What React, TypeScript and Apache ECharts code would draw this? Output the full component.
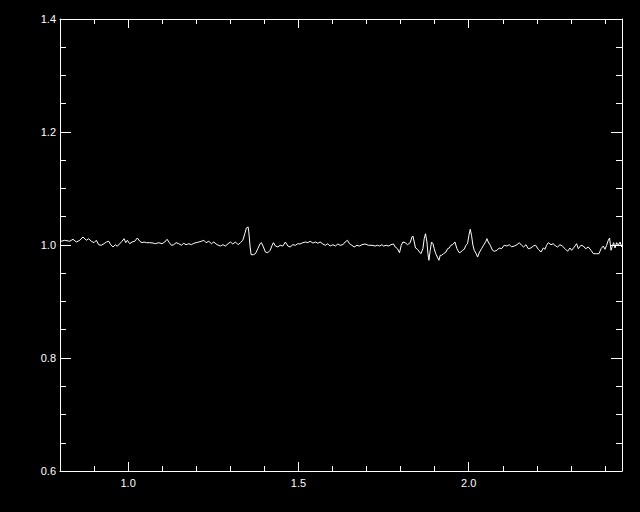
import React, { useEffect, useRef } from "react";
import * as echarts from "echarts";

// Wavelength (x) and normalised flux (y)
const wavelength = [
  0.8029, 0.8138, 0.8285, 0.8382, 0.8479, 0.8579, 0.8676, 0.8773, 0.8843, 0.892,
  0.8999, 0.9066, 0.9137, 0.9213, 0.9293, 0.936, 0.9431, 0.9489, 0.9557, 0.9625,
  0.9683, 0.9754, 0.9821, 0.988, 0.993, 0.9977, 1.0048, 1.0115, 1.0194, 1.0271,
  1.0341, 1.0409, 1.0468, 1.0535, 1.0635, 1.0732,
  1.08, 1.09, 1.0996, 1.1076, 1.1143, 1.1211, 1.127, 1.134, 1.1408, 1.1487,
  1.1563, 1.1634, 1.1701, 1.1781, 1.1857, 1.1928, 1.1995, 1.2075, 1.2151, 1.2222,
  1.2289, 1.2368, 1.2445, 1.2515, 1.2612, 1.2709, 1.278, 1.2856, 1.2935, 1.3003,
  1.3073, 1.315, 1.3229, 1.3297, 1.3367, 1.3426, 1.3473, 1.3523,
  1.3543, 1.3582, 1.3611, 1.3679, 1.3737, 1.3808, 1.3875, 1.3913, 1.3972, 1.4031,
  1.4102, 1.4169, 1.4228, 1.4266, 1.4325, 1.4395, 1.4463, 1.4542, 1.4618, 1.4689,
  1.4757, 1.4836, 1.4912, 1.4983, 1.505, 1.513, 1.5206, 1.5277, 1.5344, 1.5424,
  1.55, 1.557, 1.5638, 1.5717, 1.5794, 1.5864, 1.5932, 1.6011, 1.6087, 1.6158, 1.6225,
  1.6305, 1.6372, 1.644, 1.6499, 1.6569, 1.6637, 1.6716, 1.6793, 1.6863, 1.696,
  1.7057, 1.7157, 1.7254, 1.7321, 1.738, 1.7451, 1.7498, 1.7577, 1.7644, 1.7715,
  1.7791, 1.7841, 1.7909, 1.7968, 1.8018, 1.8068, 1.8135, 1.8203, 1.8282, 1.8332,
  1.8361, 1.84, 1.8438, 1.8496, 1.8555, 1.8596, 1.8655, 1.8693, 1.8731, 1.8773,
  1.8802, 1.8831, 1.8869, 1.8908, 1.8949, 1.8987,
  1.9031, 1.9125, 1.9163, 1.9201, 1.926, 1.9331, 1.9378, 1.9428, 1.9478, 1.9525,
  1.9595, 1.9654, 1.9721, 1.9771, 1.9818, 1.9868, 1.9918, 1.9965, 2.0006, 2.0044,
  2.0082, 2.0123, 2.0162, 2.022, 2.0259, 2.0318, 2.0376, 2.0435, 2.0506, 2.0535,
  2.0573, 2.0632, 2.0699, 2.0749, 2.0829, 2.0896, 2.0964, 2.1043, 2.1122, 2.119,
  2.1258, 2.1337, 2.1416, 2.1484, 2.1552, 2.161, 2.1681, 2.1748,
  2.1828, 2.1895, 2.1963, 2.2042, 2.2122, 2.2189, 2.2239, 2.2286, 2.2336, 2.2415,
  2.2483, 2.255, 2.2609, 2.268, 2.2747, 2.2827, 2.2903, 2.2974, 2.3021, 2.31,
  2.3167, 2.3217, 2.3296, 2.3364, 2.3431, 2.3511, 2.359, 2.3658, 2.3755, 2.3825,
  2.3884, 2.3951, 2.4001, 2.4048, 2.4098, 2.4136, 2.4177, 2.4216, 2.4254, 2.4295,
  2.4342, 2.4392, 2.4442, 2.4489, 2.453,
];

const flux = [
  1.0066, 1.0083, 1.0066, 1.0101, 1.0053, 1.0083, 1.0142, 1.0083, 1.0112, 1.0066,
  1.0041, 1.0083, 1.0005, 0.9995, 1.0023, 1.0053, 1.0066, 1.0005, 0.9965, 1.0005,
  0.9977, 1.0023, 1.0066, 1.0112, 1.0041, 1.0083, 1.0023, 1.0053, 1.0066, 1.0124,
  1.0066, 1.0041, 1.0053, 1.0041, 1.0041, 1.0035,
  1.0023, 1.0041, 1.0023, 1.0053, 1.0101, 1.0041, 0.9995, 1.0005, 1.0041, 1.0023,
  0.9995, 1.003, 1.0005, 1.0023, 1.0005, 1.003, 1.0041, 1.0053, 1.0066, 1.0083,
  1.0041, 1.0066, 1.0023, 1.0053, 1.0005, 0.9982, 1.0005, 0.9982, 1.0023, 1.0053,
  1.0018, 1.0053, 1.0005, 1.0041, 1.0083, 1.02, 1.0302, 1.0319,
  1.0231, 0.9965, 0.9828, 0.9828, 0.9846, 0.9934, 1.0023, 1.0041, 0.9965, 0.9876,
  0.9863, 0.9906, 0.9995, 1.0041, 0.9982, 0.9965, 0.9995, 0.9982, 1.0053, 0.9982,
  0.9965, 1.0005, 0.9995, 1.0023, 1.0018, 1.0041, 1.0053, 1.0041, 1.0066, 1.0035,
  1.0053, 1.003, 1.0053, 1.0018, 0.9995, 1.0023, 0.9982, 1.0005, 0.9982, 1.0018, 0.9995,
  1.0005, 1.0053, 1.0083, 1.0023, 0.9995, 0.9965, 0.9995, 0.9982, 1.0005, 1.0018,
  0.9995, 0.9995, 0.9982, 0.9995, 0.9982, 1.0005, 0.9982, 0.9995, 0.9982, 1.0005,
  1.0018, 0.9965, 0.9934, 0.9863, 0.9995, 1.0053, 1.0041, 1.0005, 1.0041, 1.0142,
  1.016, 1.0053, 0.9947, 0.9924, 0.9876, 0.9846, 0.9934, 1.0112, 1.02, 1.0053,
  0.9846, 0.9729, 0.9906, 1.0053, 1.0023, 0.9934,
  0.9846, 0.9729, 0.9817, 0.9817, 0.9846, 0.9876, 0.9934, 0.9947, 0.9995, 1.0005,
  1.0053, 0.9934, 0.9863, 0.9876, 0.9906, 0.9924, 0.9995, 1.0023, 1.0172, 1.0279,
  1.0172, 0.9995, 0.9906, 0.9846, 0.9787, 0.9876, 0.9934, 0.9995, 1.0066, 1.0112,
  1.0053, 0.9995, 0.9906, 0.9888, 0.9906, 0.9947, 0.9934, 0.9995, 0.9982, 1.0005,
  0.997, 0.9982, 1.0005, 1.0041, 0.9995, 0.9965, 1.0005, 0.9934,
  0.9947, 0.9982, 0.9995, 0.9924, 0.9876, 0.9947, 0.9924, 0.9995, 1.0041, 1.0005,
  1.0023, 0.9982, 0.9965, 1.0005, 0.9982, 0.9934, 0.9888, 0.9947, 0.9906, 0.9965,
  1.0023, 0.9934, 0.9995, 0.9982, 0.9934, 0.9965, 0.9906, 0.9846, 0.9846, 0.9846,
  0.9934, 0.9982, 0.9924, 0.9995, 1.0083, 1.0124, 0.9906, 0.9982, 1.0041, 0.9947,
  1.0041, 0.9995, 1.0053, 0.9965, 1.0041,
];

const X_MIN = 0.8;
const X_MAX = 2.45;
const Y_MIN = 0.6;
const Y_MAX = 1.4;

export default function App() {
  const ref = useRef<HTMLDivElement>(null);

  useEffect(() => {
    document.body.style.margin = "0";
    document.body.style.background = "#000";
    if (!ref.current) return;
    const chart = echarts.init(ref.current, null, { renderer: "svg" });

    const font = { fontFamily: "Liberation Sans, Arial, sans-serif", fontSize: 11, color: "#ffffff" };
    const line = { show: true, onZero: false, lineStyle: { color: "#ffffff", width: 1 } };

    const majorX = (position: "bottom" | "top", labels: boolean) => ({
      type: "value",
      position,
      min: X_MIN,
      max: X_MAX,
      splitNumber: 3,
      minInterval: 0.5,
      maxInterval: 0.5,
      axisLine: line,
      axisTick: { show: true, inside: true, length: 9, lineStyle: { color: "#ffffff", width: 1 } },
      minorTick: { show: false },
      splitLine: { show: false },
      axisLabel: {
        show: labels,
        ...font,
        margin: 6,
        showMinLabel: false,
        showMaxLabel: false,
        formatter: (v: number) => v.toFixed(1),
      },
    });
    const minorX = (position: "bottom" | "top") => ({
      type: "value",
      position,
      min: X_MIN,
      max: X_MAX,
      interval: 0.1,
      axisLine: { show: false },
      axisTick: { show: true, inside: true, length: 5, lineStyle: { color: "#ffffff", width: 1 } },
      splitLine: { show: false },
      axisLabel: { show: false },
    });
    const yAx = (position: "left" | "right", labels: boolean) => ({
      type: "value",
      position,
      min: Y_MIN,
      max: Y_MAX,
      interval: 0.2,
      axisLine: line,
      axisTick: { show: true, inside: true, length: 11, lineStyle: { color: "#ffffff", width: 1 } },
      minorTick: { show: true, splitNumber: 4, length: 6, lineStyle: { color: "#ffffff", width: 1 } },
      splitLine: { show: false },
      axisLabel: { show: labels, ...font, margin: 4, formatter: (v: number) => v.toFixed(1) },
    });

    chart.setOption({
      animation: false,
      backgroundColor: "#000000",
      grid: { left: 60, right: 18, top: 19, bottom: 41, containLabel: false },
      xAxis: [majorX("bottom", true), minorX("bottom"), majorX("top", false), minorX("top")],
      yAxis: [yAx("left", true), yAx("right", false)],
      series: [
        {
          type: "line",
          xAxisIndex: 0,
          yAxisIndex: 0,
          data: wavelength.map((w, i) => [w, flux[i]]),
          showSymbol: false,
          symbol: "none",
          clip: true,
          lineStyle: { color: "#ffffff", width: 1 },
        },
      ],
    });
    return () => chart.dispose();
  }, []);

  return (
    <div
      ref={ref}
      style={{ position: "fixed", left: 0, top: 0, width: 640, height: 512, background: "#000" }}
    />
  );
}
